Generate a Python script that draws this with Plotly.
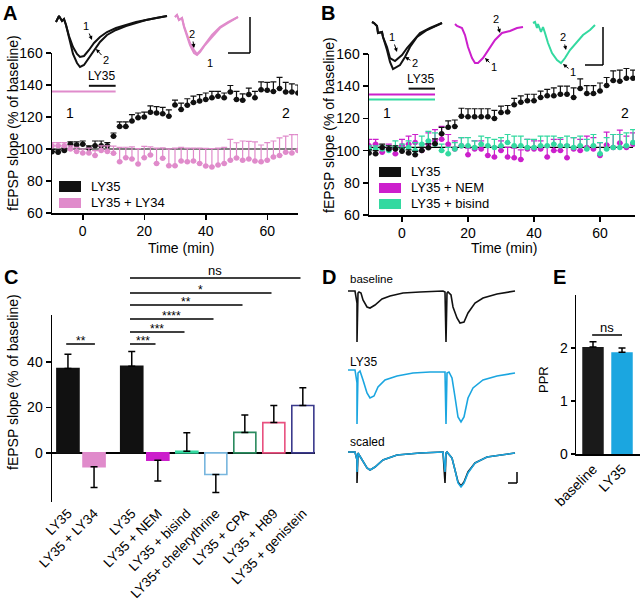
import plotly.graph_objects as go

FONT = "Arial, Liberation Sans, sans-serif"
W, H = 640, 601

# ---------------- DATA ----------------
# Panels A/B: time course, fEPSP slope (% of baseline)
time_min = [-10, -8, -6, -4, -2, 0, 2, 4, 6, 8, 10, 12, 14, 16, 18, 20, 22, 24, 26, 28,
            30, 32, 34, 36, 38, 40, 42, 44, 46, 48, 50, 52, 54, 56, 58, 60, 62, 64, 66, 68, 70]

A_ly35 = [98.3, 98.0, 99.0, 103.0, 102.5, 103.0, 100.5, 102.0, 102.0, 102.0,
          108.0, 114.0, 114.0, 117.5, 119.5, 120.0, 123.0, 122.5, 122.0, 120.5,
          127.5, 124.7, 127.4, 129.0, 130.0, 131.0, 132.0, 133.0, 132.0, 135.7,
          131.0, 130.5, 134.0, 132.0, 137.0, 136.7, 136.0, 137.8, 135.7, 135.7,
          135.0]
A_ly35_err = [1.5, 1.5, 1.5, 1.5, 2, 2, 1.5, 3, 3, 2,
              2, 3, 3, 4, 3, 3, 4, 4, 4, 4,
              3, 4, 4, 4, 4, 4, 4, 3, 3, 4,
              5, 4, 4, 4, 5, 5, 6, 7, 6, 5,
              5]
A_ly34 = [102, 102, 102, 100, 98.5, 97.5, 97.5, 96, 99, 98.5,
          97.3, 92, 94.6, 93.8, 90.7, 94.6, 96.3, 91, 94.2, 89.6,
          89.5, 92.5, 92, 92.5, 91, 89.4, 88.8, 90, 91, 93,
          94.4, 93, 93.8, 92.5, 92, 93, 95, 96, 98, 97.5,
          99]
A_ly34_err = [2, 2, 2, 2, 2.5, 2.5, 3, 3, 3, 3.5,
              4.5, 9, 6.5, 7.5, 9.5, 7, 5, 9.5, 6.5, 10.5,
              11, 8.5, 8.5, 8, 9.5, 11, 11.5, 10.5, 10, 13,
              9.5, 12, 11, 12, 10.5, 11, 10, 11, 10, 11.5,
              10]

B_ly35 = [98.5, 98, 102, 101, 101, 99.6, 98.5, 97.5, 100, 101.7,
          104.3, 110.4, 114.5, 115, 121.3, 121, 121, 121, 121, 120,
          123.6, 124, 128.5, 130, 131, 131, 133, 134, 134, 135,
          135, 133, 138.5, 135.4, 135.4, 137, 140.4, 143.5, 143, 145,
          145]
B_ly35_err = [2, 2, 2, 2, 2, 2, 2, 2, 2, 2.5,
              3, 4, 4, 4, 5, 5, 5, 5, 5, 5,
              4, 4, 4, 4, 4, 4, 4, 4, 5, 5,
              5, 6, 6, 5, 5, 5, 5, 6, 7, 6,
              5]
B_nem = [103, 104, 99, 101, 98, 103, 104, 105, 100, 104,
         106, 107, 104, 101, 103, 97.5, 101, 101, 97, 96,
         100, 96, 95.5, 94.5, 101, 101, 101, 96, 100, 100,
         95.5, 101, 100, 102, 101, 97, 103.5, 102, 104.7, 102,
         104]
B_nem_err = [4, 3, 3, 3, 3, 4, 5, 5, 4, 7,
             7, 8, 6, 5, 5, 4, 5, 5, 6, 6,
             6, 6, 6, 6, 6, 5, 5, 6, 7, 7,
             8, 7, 7, 7, 7, 8, 8, 8, 8, 7,
             7]
B_bis = [101, 101, 101, 100, 102, 101, 102, 100, 104, 106,
         104, 100, 98, 101, 103, 103, 102, 104, 103, 102,
         103, 105, 103, 103, 102, 102, 103, 103, 104, 103,
         103, 102, 103, 101, 103, 98, 101, 102, 102, 103,
         105]
B_bis_err = [2, 2, 2, 3, 4, 3, 4, 5, 5, 6,
             7, 4, 4, 4, 5, 5, 4, 5, 5, 5,
             5, 5, 6, 6, 5, 5, 6, 6, 5, 5,
             6, 6, 6, 6, 7, 7, 7, 8, 8, 8,
             8]

# drug application bars: (start min, end min, level %)
A_drug_bars = [(2, 10.7, 139.5), (-10, 10.7, 136)]
B_drug_bars = [(2, 10, 138.5), (-10, 10, 134.8), (-10, 10, 131.7)]

# Panel C: potentiation summary
C_labels = ["LY35", "LY35 + LY34", "LY35", "LY35 + NEM", "LY35 + bisind",
            "LY35+ chelerythrine", "LY35 + CPA", "LY35 + H89", "LY35 + genistein"]
C_pos = [0, 0.9, 2.2, 3.1, 4.1, 5.1, 6.1, 7.1, 8.1]
C_values = [37.1, -6.1, 38.1, -3.2, 0.7, -9.5, 9.0, 13.3, 20.8]
C_err = [6.3, 9.1, 6.5, 9.2, 8.1, 7.9, 7.6, 7.5, 7.8]
C_colors = ["#111111", "#e08bcb", "#111111", "#cc1fcc", "#33d9a0",
            "#78b6de", "#2a8a5e", "#e8507f", "#3b3a8c"]
C_filled = [True, True, True, True, True, False, False, False, False]
C_sig = [(0, 1, "**"), (2, 3, "***"), (2, 4, "***"), (2, 5, "****"),
         (2, 6, "**"), (2, 7, "*"), (2, 8, "ns")]

# Panel E: paired-pulse ratio
E_labels = ["baseline", "LY35"]
E_values = [2.02, 1.92]
E_err = [0.10, 0.08]
E_colors = ["#1a1a1a", "#1ba6e0"]

# Example traces (time units, amplitude units)
A_blk_t = [0, 3, 6, 8, 10, 13, 17, 21, 24, 28, 33, 38, 44, 51, 60, 70, 80, 90, 100, 111]
A_blk_1 = [-6, 0, -5, -3, -9, -20, -31, -38, -41, -40, -34, -27, -21, -16, -12, -9, -6, -4, -2, 0]
A_blk_2 = [-6, 0, -5, -3, -9, -22, -38, -47, -51, -49, -42, -34, -26, -19, -14, -10, -7, -4, -2, 0]
A_pnk_t = [0, 2, 4, 7, 9, 12, 15, 19, 22, 25, 30, 37, 45, 53, 63]
A_pnk_1 = [-1, 1, -4, -2, -11, -21, -29, -37, -39, -36, -29, -21, -12, -7, -1]
A_pnk_2 = [-1, 1, -4, -2, -10, -19, -27, -34, -38, -35, -28, -19, -11, -6, -1]
B_blk_t1 = [0, 2, 5, 6, 10, 11, 15, 18, 23, 30, 35, 40, 48, 58, 70]
B_blk_1 = [0, -1, -4, -11, -10, -15, -25, -36, -39, -33, -26, -20, -11, -6, -1]
B_blk_t2 = [0, 2, 5, 6, 10, 11, 15, 18, 21, 28, 33, 38, 45, 55, 70]
B_blk_2 = [0, -1, -4, -11, -10, -15, -28, -40, -47, -43, -35, -25, -15, -8, -1]
B_nem_t = [0, 2, 7, 10, 13, 17, 20, 23, 28, 33, 40, 47, 55, 62, 68]
B_nem_w = [0, -2, -4, -11, -23, -34, -39, -39, -34, -26, -16, -9, -7, -4, -3]
B_bis_t = [0, 2, 4, 5, 8, 10, 12, 15, 19, 24, 28, 32, 37, 44, 50, 57, 62]
B_bis_w = [0, 1, -5, -1, -9, -4, -10, -20, -30, -37, -40, -35, -27, -19, -12, -7, -2]

D_base_t = [0, 7, 9, 9, 10, 11, 13, 15, 19, 22, 27, 34, 42, 55, 72, 95, 97, 98, 99, 100,
            103, 105, 109, 112, 116, 120, 127, 135, 149, 167]
D_base_w = [0, 0, -12, -51, -2, -1, -2, -9, -16, -17, -14, -8, -5, -2, -1, 0, -1, -51, -2, -1,
            -4, -16, -27, -32, -31, -22, -12, -7, -3, 0]
D_ly_t = [0, 7, 9, 9, 10, 12, 15, 19, 22, 26, 30, 37, 49, 65, 82, 95, 97, 98, 99, 101,
          104, 107, 110, 113, 116, 120, 125, 135, 149, 167]
D_ly_w = [0, 0, -13, -54, -3, -1, -10, -23, -28, -26, -17, -10, -6, -3, -2, -2, -2, -54, -3, -2,
          -8, -27, -47, -52, -47, -28, -18, -10, -6, -3]
D_sc_t = [0, 7, 9, 9, 10, 15, 19, 22, 27, 35, 49, 72, 95, 97, 98, 99, 104, 107, 110, 113,
          116, 120, 127, 139, 167]
D_sc_blk = [0, 0, -8, -31, -1, -10, -16, -18, -15, -8, -3, -1, 0, -31, -1, 0, -6, -18, -30, -34,
            -30, -20, -11, -5, -1]
D_sc_blu = [0, 0, -8, -20, -1, -10, -16, -18, -15, -8, -3, -1, 0, -20, -1, 0, -6, -18, -31, -35,
            -31, -21, -11, -5, -1]

# ---------------- LAYOUT HELPERS ----------------
def fx(x):
    return x / W


def fy(y):
    return 1 - y / H


BLACK = "#111111"
PINK = "#e08bcb"
MAG = "#cc1fcc"
GRN = "#33d9a0"
BLUE = "#1ba6e0"

fig = go.Figure()
shapes = []
ann = []

axis_common = dict(showline=True, linecolor="black", linewidth=1.5, ticks="outside",
                   ticklen=5, tickwidth=1.5, tickcolor="black", showgrid=False,
                   zeroline=False, tickfont=dict(size=14, color="black", family=FONT),
                   fixedrange=True, automargin=False)

layout = dict(
    template="none",
    width=W, height=H, autosize=False,
    margin=dict(l=0, r=0, t=0, b=0, pad=0, autoexpand=False),
    paper_bgcolor="white", plot_bgcolor="rgba(0,0,0,0)", showlegend=False,
    font=dict(family=FONT, color="black"),
    xaxis=dict(domain=[fx(52), fx(298)], range=[-10, 70], tickvals=[0, 20, 40, 60],
               anchor="y", **axis_common),
    yaxis=dict(domain=[fy(213), fy(53)], range=[60, 160], tickvals=[60, 80, 100, 120, 140, 160],
               anchor="x", **axis_common),
    xaxis2=dict(domain=[fx(369), fx(635)], range=[-10, 70.6], tickvals=[0, 20, 40, 60],
                anchor="y2", **axis_common),
    yaxis2=dict(domain=[fy(215), fy(54)], range=[60, 160], tickvals=[60, 80, 100, 120, 140, 160],
                anchor="x2", **axis_common),
)
c_x = dict(axis_common)
c_x.update(showline=False, ticks="", tickangle=-45,
           tickfont=dict(size=13.5, color="black", family=FONT))
layout["xaxis3"] = dict(domain=[fx(52), fx(315)], range=[-0.55, 8.52], tickvals=C_pos,
                        ticktext=C_labels, anchor="y3", **c_x)
c_y = dict(axis_common)
c_y.update(zeroline=True, zerolinecolor="black", zerolinewidth=1.5)
layout["yaxis3"] = dict(domain=[fy(502), fy(315)], range=[-21.6, 60.6], tickvals=[0, 20, 40],
                        anchor="x3", **c_y)
e_x = dict(axis_common)
e_x.update(ticks="", tickangle=-45)
layout["xaxis4"] = dict(domain=[fx(576), fx(640)], range=[-0.586, 1.62], tickvals=[0, 1],
                        ticktext=E_labels, anchor="y4", **e_x)
e_y = dict(axis_common)
e_y.update(ticklen=4)
layout["yaxis4"] = dict(domain=[fy(454), fy(295)], range=[0, 3], tickvals=[0, 1, 2],
                        anchor="x4", **e_y)

# inset axes: idx -> (box px x0,y0,x1,y1, origin x px, baseline y px)
insets = {
    5: (54, 10, 170, 72, 56, 16),
    6: (173, 10, 242, 62, 175, 16),
    7: (370, 12, 446, 74, 372, 22),
    8: (453, 14, 527, 70, 455, 24),
    9: (531, 13, 600, 70, 533, 23),
    10: (346, 284, 518, 346, 348, 291),
    11: (346, 362, 518, 428, 348, 370),
    12: (346, 444, 518, 490, 348, 452),
}
for i, (x0, y0, x1, y1, ox, by) in insets.items():
    layout[f"xaxis{i}"] = dict(domain=[fx(x0), fx(x1)], range=[x0 - ox, x1 - ox],
                               visible=False, anchor=f"y{i}", fixedrange=True, automargin=False)
    layout[f"yaxis{i}"] = dict(domain=[fy(y1), fy(y0)], range=[by - y1, by - y0],
                               visible=False, anchor=f"x{i}", fixedrange=True, automargin=False)


def err_up(e):
    return dict(type="data", symmetric=False, array=e, arrayminus=[0] * len(e),
                thickness=1.2, width=3)


# ---------------- PANEL A ----------------
shapes.append(dict(type="line", xref="x", yref="y", x0=-10, x1=70, y0=100, y1=100,
                   line=dict(color="black", width=1.2), layer="below"))
fig.add_trace(go.Scatter(x=time_min, y=A_ly35, mode="markers", xaxis="x", yaxis="y",
                         marker=dict(color=BLACK, size=5.5),
                         error_y=dict(err_up(A_ly35_err), color=BLACK)))
fig.add_trace(go.Scatter(x=time_min, y=A_ly34, mode="markers", xaxis="x", yaxis="y",
                         marker=dict(color=PINK, size=5.5),
                         error_y=dict(err_up(A_ly34_err), color=PINK)))
for (s, e, lv), col in zip(A_drug_bars, [BLACK, PINK]):
    shapes.append(dict(type="line", xref="x", yref="y", x0=s, x1=e, y0=lv, y1=lv,
                       line=dict(color=col, width=2)))

# ---------------- PANEL B ----------------
shapes.append(dict(type="line", xref="x2", yref="y2", x0=-10, x1=70, y0=102, y1=102,
                   line=dict(color="black", width=1.2), layer="below"))
fig.add_trace(go.Scatter(x=time_min, y=B_nem, mode="markers", xaxis="x2", yaxis="y2",
                         marker=dict(color=MAG, size=5.5),
                         error_y=dict(err_up(B_nem_err), color=MAG)))
fig.add_trace(go.Scatter(x=time_min, y=B_bis, mode="markers", xaxis="x2", yaxis="y2",
                         marker=dict(color=GRN, size=5.5),
                         error_y=dict(err_up(B_bis_err), color=GRN)))
fig.add_trace(go.Scatter(x=time_min, y=B_ly35, mode="markers", xaxis="x2", yaxis="y2",
                         marker=dict(color=BLACK, size=5.5),
                         error_y=dict(err_up(B_ly35_err), color=BLACK)))
for (s, e, lv), col in zip(B_drug_bars, [BLACK, MAG, GRN]):
    shapes.append(dict(type="line", xref="x2", yref="y2", x0=s, x1=e, y0=lv, y1=lv,
                       line=dict(color=col, width=2)))

# ---------------- PANEL C ----------------
fig.add_trace(go.Bar(
    x=C_pos, y=C_values, width=0.76, xaxis="x3", yaxis="y3",
    marker=dict(color=[c if f else "white" for c, f in zip(C_colors, C_filled)],
                line=dict(color=C_colors, width=1.6)),
    error_y=dict(type="data", symmetric=False,
                 array=[e if v >= 0 else 0 for v, e in zip(C_values, C_err)],
                 arrayminus=[e if v < 0 else 0 for v, e in zip(C_values, C_err)],
                 color="black", thickness=1.5, width=3.5)))
sig_levels_px = [344, 344, 332, 319, 305, 293, 278]
for (i, j, txt), lev in zip(C_sig, sig_levels_px):
    xa = C_pos[i] - 0.06
    xb = C_pos[j] - 0.08 if i else C_pos[j] + 0.03
    shapes.append(dict(type="line", xref="x3", yref="paper", x0=xa, x1=xb,
                       y0=fy(lev), y1=fy(lev), line=dict(color="black", width=1.5)))
    ann.append(dict(xref="x3", yref="paper", x=(xa + xb) / 2, y=fy(lev), text=txt,
                    showarrow=False, yanchor="bottom",
                    yshift=-6 if "*" in txt else -2,
                    font=dict(size=12 if "*" in txt else 13, color="black")))

# ---------------- PANEL E ----------------
fig.add_trace(go.Bar(x=[0, 1], y=E_values, width=0.74, xaxis="x4", yaxis="y4",
                     marker=dict(color=E_colors, line=dict(width=0)),
                     error_y=dict(type="data", symmetric=False, array=E_err,
                                  arrayminus=[0, 0], color="black", thickness=1.5, width=3.5)))
shapes.append(dict(type="line", xref="x4", yref="paper", x0=-0.03, x1=1.0,
                   y0=fy(335), y1=fy(335), line=dict(color="black", width=1.5)))
ann.append(dict(xref="x4", yref="paper", x=0.485, y=fy(335), text="ns", showarrow=False,
                yanchor="bottom", yshift=-2, font=dict(size=13, color="black")))


# ---------------- TRACES (insets) ----------------
def wave(t, v, idx, color, width=1.8):
    fig.add_trace(go.Scatter(x=t, y=v, mode="lines", xaxis=f"x{idx}", yaxis=f"y{idx}",
                             line=dict(color=color, width=width), hoverinfo="skip"))


wave(A_blk_t, A_blk_1, 5, BLACK, 2)
wave(A_blk_t, A_blk_2, 5, BLACK, 2)
wave(A_pnk_t, A_pnk_2, 6, PINK, 2)
wave(A_pnk_t, A_pnk_1, 6, PINK, 2)
wave(B_blk_t1, B_blk_1, 7, BLACK, 2)
wave(B_blk_t2, B_blk_2, 7, BLACK, 2)
wave(B_nem_t, B_nem_w, 8, MAG, 2)
wave(B_bis_t, B_bis_w, 9, GRN, 2)
wave(D_base_t, D_base_w, 10, BLACK, 1.6)
wave(D_ly_t, D_ly_w, 11, BLUE, 1.6)
wave(D_sc_t, D_sc_blk, 12, BLACK, 1.6)
wave(D_sc_t, D_sc_blu, 12, BLUE, 1.6)

# scale bars
for (xa, ya, xb, yb) in [(250, 17, 250, 53), (228, 53, 250, 53),
                         (603, 27, 603, 65), (585, 65, 603, 65),
                         (517, 472, 517, 483), (508, 483, 517, 483)]:
    shapes.append(dict(type="line", xref="paper", yref="paper", x0=fx(xa), x1=fx(xb),
                       y0=fy(ya), y1=fy(yb), line=dict(color="black", width=1.5)))

# arrow labels (text at tail px, head px)
for txt, tx, ty, hx, hy in [("1", 86, 26, 92, 40), ("2", 106, 60, 96, 49),
                            ("2", 192, 34, 194, 48), ("1", 210, 63, 200, 56),
                            ("1", 392, 37, 397, 52), ("2", 415, 63, 405, 57),
                            ("2", 496, 19, 500, 33), ("1", 494, 67, 485, 58),
                            ("2", 563, 37, 566, 50), ("1", 573, 72, 563, 64)]:
    ann.append(dict(xref="paper", yref="paper", x=fx(hx), y=fy(hy), ax=tx - hx, ay=ty - hy,
                    text=txt, showarrow=True, arrowhead=2, arrowsize=0.8, arrowwidth=1,
                    arrowcolor="black", font=dict(size=11, color="black")))

# ---------------- LEGENDS ----------------
for (y0, y1, col, txt) in [(181, 192, BLACK, "LY35"), (198, 208, PINK, "LY35 + LY34")]:
    shapes.append(dict(type="rect", xref="paper", yref="paper", x0=fx(59), x1=fx(81),
                       y0=fy(y1), y1=fy(y0), fillcolor=col, line=dict(width=0)))
    ann.append(dict(xref="paper", yref="paper", x=fx(89), y=fy((y0 + y1) / 2), text=txt,
                    showarrow=False, xanchor="left", yanchor="middle",
                    font=dict(size=13, color="black")))
for (y0, y1, col, txt) in [(167, 177, BLACK, "LY35"), (183, 193, MAG, "LY35 + NEM"),
                           (199, 209, GRN, "LY35 + bisind")]:
    shapes.append(dict(type="rect", xref="paper", yref="paper", x0=fx(379), x1=fx(401),
                       y0=fy(y1), y1=fy(y0), fillcolor=col, line=dict(width=0)))
    ann.append(dict(xref="paper", yref="paper", x=fx(409), y=fy((y0 + y1) / 2), text=txt,
                    showarrow=False, xanchor="left", yanchor="middle",
                    font=dict(size=13, color="black")))

# ---------------- TEXT ----------------
def text(x, y, t, size=14, xa="center", ya="middle", angle=0, bold=False):
    ann.append(dict(xref="paper", yref="paper", x=fx(x), y=fy(y),
                    text=f"<b>{t}</b>" if bold else t, showarrow=False, xanchor=xa,
                    yanchor=ya, textangle=angle, font=dict(size=size, color="black")))


text(13, 123, "fEPSP slope (% of baseline)", 14, angle=-90)
text(329, 125, "fEPSP slope (% of baseline)", 14, angle=-90)
text(13, 382, "fEPSP slope (% of baseline)", 14, angle=-90)
text(181, 248, "Time (min)")
text(504, 248, "Time (min)")
text(70, 113, "1")
text(286, 113, "2")
text(387, 113, "1")
text(625, 113, "2")
text(101, 76, "LY35", 12)
text(420, 79, "LY35", 12)
text(348, 279, "baseline", 11.5, xa="left")
text(348, 362, "LY35", 12, xa="left")
text(348, 442, "scaled", 12, xa="left")
text(543, 380, "PPR", 13, angle=-90)
text(1, 0, "A", 20, xa="left", ya="top", bold=True)
text(319, 0, "B", 20, xa="left", ya="top", bold=True)
text(2, 264, "C", 20, xa="left", ya="top", bold=True)
text(320, 264, "D", 20, xa="left", ya="top", bold=True)
text(551, 264, "E", 20, xa="left", ya="top", bold=True)

layout["shapes"] = shapes
layout["annotations"] = ann
fig.update_layout(**layout)
fig.write_html("out.html", config={"displayModeBar": False, "staticPlot": True},
               post_script="document.body.style.margin='0';document.body.style.padding='0';")
